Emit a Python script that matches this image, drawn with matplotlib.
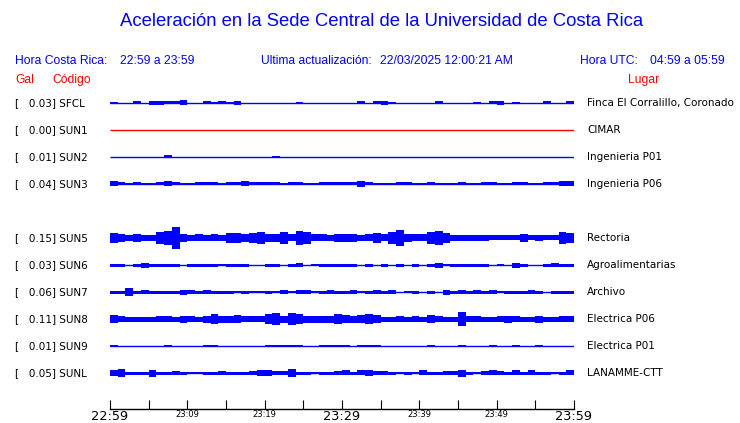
import matplotlib
matplotlib.use("Agg")
import matplotlib.pyplot as plt
import matplotlib.transforms as mtransforms
import numpy as np

# Encabezados
TITLE = "Aceleración en la Sede Central de la Universidad de Costa Rica"
HORA_CR = "22:59 a 23:59"
ACTUALIZACION = "22/03/2025 12:00:21 AM"
HORA_UTC = "04:59 a 05:59"

# Estaciones (fila 4 vacía)
CODES = ["SFCL", "SUN1", "SUN2", "SUN3", None, "SUN5", "SUN6", "SUN7", "SUN8", "SUN9", "SUNL"]
GAL = [0.03, 0.00, 0.01, 0.04, None, 0.15, 0.03, 0.06, 0.11, 0.01, 0.05]
PLACES = ["Finca El Corralillo, Coronado", "CIMAR", "Ingenieria P01", "Ingenieria P06", None,
          "Rectoria", "Agroalimentarias", "Archivo", "Electrica P06", "Electrica P01", "LANAMME-CTT"]
COLORS = ["blue", "red", "blue", "blue", None, "blue", "blue", "blue", "blue", "blue", "blue"]

# Envolvente (media amplitud) por minuto
ENV_SFCL = [1, 0, 0, 1.5, 0, 2, 2, 1.5, 1.5, 2.5,
            0, 0, 1.5, 1, 1.5, 1, 2, 0, 0, 0,
            0, 0, 0, 0, 0.7, 0, 0, 0, 0, 0,
            0, 0, 1.5, 0, 1.5, 2, 1, 0, 0, 0,
            0, 0, 1.5, 0, 0, 0, 0, 1, 0, 1.5,
            2, 0, 0.7, 0, 0, 0, 1.5, 0, 0, 1.5]
ENV_SUN1 = [0, 0, 0, 0, 0, 0, 0, 0, 0, 0,
            0, 0, 0, 0, 0, 0, 0, 0, 0, 0,
            0, 0, 0, 0, 0, 0, 0, 0, 0, 0,
            0, 0, 0, 0, 0, 0, 0, 0, 0, 0,
            0, 0, 0, 0, 0, 0, 0, 0, 0, 0,
            0, 0, 0, 0, 0, 0, 0, 0, 0, 0]
ENV_SUN2 = [0, 0, 0, 0, 0, 0, 0, 1.5, 0, 0,
            0, 0, 0, 0, 0, 0, 0, 0, 0, 0,
            0, 0.7, 0, 0, 0, 0, 0, 0, 0, 0,
            0, 0, 0, 0, 0, 0, 0, 0, 0, 0,
            0, 0, 0, 0, 0, 0, 0, 0, 0, 0,
            0, 0, 0, 0, 0, 0, 0, 0, 0, 0]
ENV_SUN3 = [2.5, 1.5, 0.8, 1.5, 1.4, 0.8, 1.5, 2.5, 1.5, 0.8,
            0.8, 1.5, 1.5, 1.5, 0.8, 1.5, 1.5, 2.5, 1.5, 1.5,
            1.5, 1.5, 0.8, 1.5, 1.5, 0.8, 0.8, 1.5, 1.5, 1.5,
            1.5, 1.5, 3, 1.5, 0.8, 0.8, 0.8, 1.5, 1.5, 0.8,
            0.8, 1.5, 0.8, 0.8, 0.8, 1.5, 0.8, 0.8, 1.5, 1.5,
            0.8, 0.8, 1.5, 1.5, 0.8, 0.8, 1.5, 1.5, 2.5, 2.5]
ENV_SUN5 = [5, 4, 3, 4, 3, 3, 6, 7, 11, 4,
            3, 3.5, 3, 3.5, 3, 5, 5, 4, 5, 6,
            4, 4, 6, 3.5, 7, 6, 3.5, 3.5, 3, 4,
            4, 4, 3, 3.5, 5, 3.5, 6, 8, 4, 3.5,
            3.5, 6, 7, 5, 3, 3, 3, 3, 3, 2.5,
            2.5, 2.5, 2.5, 4, 2.5, 3, 2.5, 2.5, 6, 5]
ENV_SUN6 = [1.5, 1.5, 0.3, 1.5, 2.5, 1.5, 1.5, 1.5, 1.5, 0.5,
            1.5, 1.5, 1.5, 1.5, 1, 1.5, 1.5, 1.5, 0.5, 0.5,
            1.5, 1.5, 0.5, 1.5, 2, 0.5, 1, 1.5, 1.5, 1.5,
            1.5, 1.5, 0.5, 1.5, 0.3, 1.5, 0.5, 1.5, 0.5, 1.5,
            0.5, 1.5, 2.5, 1, 1.5, 1.5, 1.5, 1.5, 1.5, 0.5,
            1, 0.5, 2.5, 1.5, 0.5, 0.5, 1.5, 2, 1.5, 1.5]
ENV_SUN7 = [1.5, 1.5, 4, 1.5, 2, 1.5, 1.5, 1.5, 1.5, 2.5,
            2, 1.5, 2, 1.5, 1.5, 1.5, 1, 1.5, 1, 1,
            1.5, 1, 2, 1, 2, 2, 1, 1.5, 2, 1.5,
            1.5, 2, 1, 1.5, 2, 1.5, 2, 0.5, 1, 1.5,
            0.5, 1.5, 0.5, 2.5, 1.5, 2, 1.5, 2, 1.5, 2,
            1, 1.5, 1.5, 1.5, 2, 1.5, 0.5, 1.5, 1.5, 1.5]
ENV_SUN8 = [4, 3, 2.5, 2.5, 2.5, 2.5, 3, 3, 2.5, 3.5,
            3, 2.5, 3.5, 5, 3.5, 3.5, 4, 3, 3, 3,
            5, 6, 3.5, 6, 5, 3.5, 3.5, 3.5, 3.5, 5,
            4, 3.5, 4, 5, 4, 2.5, 2.5, 3, 2.5, 3,
            2.5, 4, 3, 2.5, 2.5, 7, 3, 3, 2.5, 2.5,
            3, 3.5, 3, 2.5, 2.5, 3.5, 2.5, 2.5, 3, 3]
ENV_SUN9 = [1.2, 0, 0, 0, 0, 0, 0, 1, 0, 0,
            0, 0, 0.6, 1.2, 0, 0, 0, 0, 0, 0,
            1.2, 1.2, 0.8, 1, 0.8, 0.5, 0, 0.6, 0.8, 1.2,
            1, 0, 1.2, 1, 0.8, 0, 0, 0, 0, 0,
            0, 1, 0, 0, 0, 1.2, 0, 0, 0, 1,
            0, 0, 0.6, 0, 0, 1, 0, 0, 0, 0.5]
ENV_SUNL = [3, 4, 1.5, 1.5, 1.5, 3.5, 1.5, 1.5, 2, 1.5,
            1, 1, 1.5, 1.5, 2, 1.5, 1.5, 1.5, 2, 3,
            3, 2, 2, 4, 1.5, 1.5, 1, 1.5, 1.5, 2,
            2.5, 1.5, 2.5, 3, 2, 2, 1.5, 0.5, 1.5, 1,
            2.5, 1.5, 1.5, 2, 2, 3.5, 1.5, 1, 2, 2.5,
            2, 1.5, 2.5, 1.5, 2.5, 1.5, 1.5, 1, 1.5, 2.5]
ENVELOPES = [ENV_SFCL, ENV_SUN1, ENV_SUN2, ENV_SUN3, None, ENV_SUN5,
             ENV_SUN6, ENV_SUN7, ENV_SUN8, ENV_SUN9, ENV_SUNL]

# Eje de tiempo (minutos desde 22:59)
TICK_MIN = [0, 10, 20, 30, 40, 50, 60]
TICK_LABELS = ["22:59", "23:09", "23:19", "23:29", "23:39", "23:49", "23:59"]
BIG_LABELS = ["22:59", "23:29", "23:59"]

W, H = 740, 423
ROW_PX = 27.0  # separación entre trazas en pixeles


def fx(px):
    return px / W


def fy(py):
    return 1 - py / H


def main():
    fig = plt.figure(figsize=(W / 100, H / 100), dpi=100)
    fig.patch.set_facecolor("white")

    ax = fig.add_axes([fx(110), fy(409), fx(574) - fx(110), fy(90) - fy(409)])
    ax.set_xlim(0, 60)
    ax.set_ylim((409 - 103) / ROW_PX, (90 - 103) / ROW_PX)

    for row, env in enumerate(ENVELOPES):
        if env is None:
            continue
        c = COLORS[row]
        ax.hlines(row, 0, 60, color=c, lw=1.0)
        amp = np.array(env) / ROW_PX
        ax.bar(np.arange(len(env)), 2 * amp, bottom=row - amp, width=1, align="edge",
               color=c, linewidth=0)

    for s in ["left", "right", "top"]:
        ax.spines[s].set_visible(False)
    ax.spines["bottom"].set_linewidth(1.0)
    ax.set_yticks([])
    ax.set_xticks(TICK_MIN)
    ax.set_xticks([5, 15, 25, 35, 45, 55], minor=True)
    ax.set_xticklabels(TICK_LABELS)
    ax.tick_params(axis="x", which="both", direction="in", length=6.5, width=0.8, pad=1)
    for lab in ax.get_xticklabels():
        lab.set_family("DejaVu Sans")
        lab.set_fontsize(9.3 if lab.get_text() in BIG_LABELS else 6.0)

    # Etiquetas de estaciones
    tr = mtransforms.blended_transform_factory(fig.transFigure, ax.transData)
    for row, code in enumerate(CODES):
        if code is None:
            continue
        ax.text(fx(15), row, "[   %.2f] %s" % (GAL[row], code), transform=tr,
                ha="left", va="center", fontsize=7.5, family="DejaVu Sans")
        ax.text(fx(587), row, PLACES[row], transform=tr,
                ha="left", va="center", fontsize=7.5, family="DejaVu Sans")

    # Encabezados
    hf = "Liberation Sans"
    fig.text(fx(382), fy(22), TITLE, ha="center", va="center", color="blue",
             fontsize=13.3, family=hf)
    fig.text(fx(15), fy(61), "Hora Costa Rica:", ha="left", va="center", color="blue", fontsize=8.7, family=hf)
    fig.text(fx(120), fy(61), HORA_CR, ha="left", va="center", color="blue", fontsize=8.7, family=hf)
    fig.text(fx(261), fy(61), "Ultima actualización:", ha="left", va="center", color="blue", fontsize=8.7, family=hf)
    fig.text(fx(380), fy(61), ACTUALIZACION, ha="left", va="center", color="blue", fontsize=8.7, family=hf)
    fig.text(fx(580), fy(61), "Hora UTC:", ha="left", va="center", color="blue", fontsize=8.7, family=hf)
    fig.text(fx(725), fy(61), HORA_UTC, ha="right", va="center", color="blue", fontsize=8.7, family=hf)
    fig.text(fx(15), fy(80), "Gal", ha="left", va="center", color="red", fontsize=8.7, family=hf)
    fig.text(fx(52), fy(80), "Código", ha="left", va="center", color="red", fontsize=8.7, family=hf)
    fig.text(fx(659), fy(80), "Lugar", ha="right", va="center", color="red", fontsize=8.7, family=hf)

    fig.savefig("out.png", dpi=100, facecolor="white")


if __name__ == "__main__":
    main()
